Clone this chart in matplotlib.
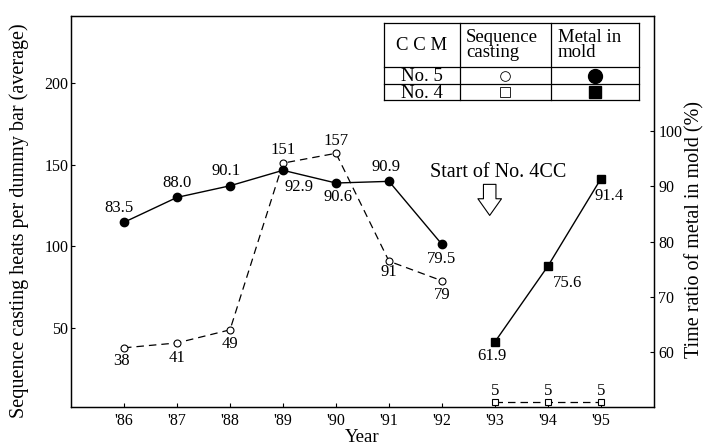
import matplotlib.pyplot as plt

plt.rcParams['font.family'] = ['Liberation Serif', 'DejaVu Serif']

# Data
years = [86, 87, 88, 89, 90, 91, 92, 93, 94, 95]
year_labels = ["'86", "'87", "'88", "'89", "'90", "'91", "'92", "'93", "'94", "'95"]

no5_years = [86, 87, 88, 89, 90, 91, 92]
no5_seq = [38, 41, 49, 151, 157, 91, 79]
no5_metal = [83.5, 88.0, 90.1, 92.9, 90.6, 90.9, 79.5]

no4_years = [93, 94, 95]
no4_seq = [5, 5, 5]
no4_metal = [61.9, 75.6, 91.4]

left_ticks = [50, 100, 150, 200]
right_ticks = [60, 70, 80, 90, 100]

table_header = ['C C M', 'Sequence\ncasting', 'Metal in\nmold']
table_rows = ['No. 5', 'No. 4']

# label offsets (pixels) for each point
no5_seq_off = [(-2, -13), (0, -15), (0, -14), (0, 13), (0, 12), (0, -11), (0, -14)]
no5_metal_off = [(-5, 14), (0, 14), (-4, 15), (16, -17), (2, -14), (-3, 14), (0, -15)]
no4_seq_off = [(0, 11), (0, 11), (0, 11)]
no4_metal_off = [(-3, -14), (20, -17), (8, -17)]

fig = plt.figure(figsize=(7.04, 4.47), dpi=100)
ax = fig.add_axes([71 / 704, 40 / 447, 583 / 704, 391 / 447])
ax2 = ax.twinx()

# sequence casting (left axis)
ax.plot(no5_years, no5_seq, color='black', lw=0.9, ls=(0, (6, 4)),
        marker='o', ms=5, mfc='white', mec='black', mew=0.8)
ax.plot(no4_years, no4_seq, color='black', lw=0.9, ls=(0, (6, 4)),
        marker='s', ms=5, mfc='white', mec='black', mew=0.8, clip_on=False)

# metal in mold (right axis)
ax2.plot(no5_years, no5_metal, color='black', lw=1.0,
         marker='o', ms=6, mfc='black', mec='black')
ax2.plot(no4_years, no4_metal, color='black', lw=1.0,
         marker='s', ms=5.5, mfc='black', mec='black')

for x, v, off in zip(no5_years, no5_seq, no5_seq_off):
    ax.annotate(str(v), (x, v), xytext=off, textcoords='offset pixels',
                ha='center', va='center', fontsize=12)
for x, v, off in zip(no4_years, no4_seq, no4_seq_off):
    ax.annotate(str(v), (x, v), xytext=off, textcoords='offset pixels',
                ha='center', va='center', fontsize=12)
for x, v, off in zip(no5_years, no5_metal, no5_metal_off):
    ax2.annotate(f'{v:.1f}', (x, v), xytext=off, textcoords='offset pixels',
                 ha='center', va='center', fontsize=12)
for x, v, off in zip(no4_years, no4_metal, no4_metal_off):
    ax2.annotate(f'{v:.1f}', (x, v), xytext=off, textcoords='offset pixels',
                 ha='center', va='center', fontsize=12)

# start of No.4 CC note with hollow arrow
ax.text(93.06, 145.5, 'Start of No. 4CC', ha='center', va='center', fontsize=14.5)
ax.annotate('', xy=(92.9, 119), xytext=(92.9, 138),
            arrowprops=dict(arrowstyle='simple,head_length=0.6,head_width=0.85,tail_width=0.45',
                            fc='white', ec='black', lw=0.8, mutation_scale=20,
                            shrinkA=0, shrinkB=0))

ax.set_xlim(85, 96)
ax.set_ylim(1.8, 241)
ax2.set_ylim(50.1, 120.8)

ax.set_xticks(years)
ax.set_xticklabels(year_labels)
ax.set_yticks(left_ticks)
ax2.set_yticks(right_ticks)

ax.tick_params(axis='both', direction='in', length=3, width=0.8, labelsize=11.5, pad=4)
ax.tick_params(axis='y', pad=2)
ax2.tick_params(axis='y', direction='in', length=3, width=0.8, labelsize=11.5, pad=3)

for a in (ax, ax2):
    for s in a.spines.values():
        s.set_linewidth(0.9)

ax.set_xlabel('Year', fontsize=13.5, labelpad=0)
ax.set_ylabel('Sequence casting heats per dummy bar (average)', fontsize=14.5)
ax.yaxis.set_label_coords(-0.072, 0.476)
ax2.set_ylabel('Time ratio of metal in mold (%)', fontsize=14.5)
ax2.yaxis.set_label_coords(1.053, 0.455)

# legend table
tab = fig.add_axes([384 / 704, 1 - 100 / 447, 255 / 704, 77 / 447])
tab.set_xlim(0, 255)
tab.set_ylim(77, 0)
tab.axis('off')
col_x = [0, 76, 167, 255]
row_y = [0, 44, 61, 77]
for cx in col_x:
    tab.plot([cx, cx], [0, 77], color='black', lw=0.9, clip_on=False)
for ry in row_y:
    tab.plot([0, 255], [ry, ry], color='black', lw=0.9, clip_on=False)

tab.text(38, 22, table_header[0], ha='center', va='center', fontsize=13.5)
tab.text(82, 22, table_header[1], ha='left', va='center', fontsize=13.5, linespacing=0.9)
tab.text(174, 22, table_header[2], ha='left', va='center', fontsize=13.5, linespacing=0.9)
for i, name in enumerate(table_rows):
    yc = (row_y[i + 1] + row_y[i + 2]) / 2
    tab.text(38, yc + 1, name, ha='center', va='center', fontsize=13.5)
tab.plot([121], [52.5], marker='o', ms=7, mfc='white', mec='black', mew=0.6, ls='none')
tab.plot([211], [52.5], marker='o', ms=10, mfc='black', mec='black', ls='none')
tab.plot([121], [69], marker='s', ms=7, mfc='white', mec='black', mew=0.6, ls='none')
tab.plot([211], [69], marker='s', ms=8.5, mfc='black', mec='black', ls='none')

fig.savefig('out.png', dpi=100)
